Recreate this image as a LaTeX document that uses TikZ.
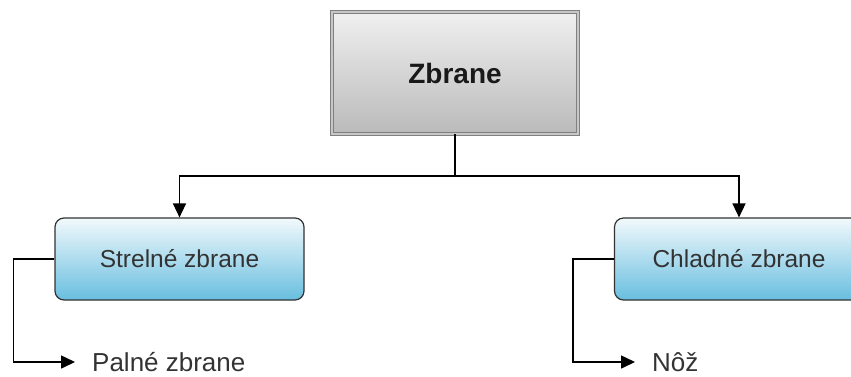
\documentclass[tikz,border=0pt]{standalone}
\usepackage{fontspec}
\setmainfont{Liberation Sans}
\usetikzlibrary{arrows.meta}
\definecolor{boxtop}{HTML}{F2F9FC}
\definecolor{boxbot}{HTML}{68BEDF}
\definecolor{txt}{HTML}{333333}
\tikzset{
  topbox/.style={draw=black!50, double=black!22, double distance=2.2pt, line width=0.9pt,
    top color=black!6, bottom color=black!27, minimum width=246pt, minimum height=122pt,
    inner sep=0pt, font=\fontsize{28}{32}\selectfont\bfseries, text=black!90},
  subbox/.style={draw=black!80, line width=1.2pt, rounded corners=9pt,
    top color=boxtop, bottom color=boxbot, minimum width=249pt, minimum height=82pt,
    inner sep=0pt, font=\fontsize{24.5}{28}\selectfont, text=txt},
  leaf/.style={anchor=west, inner xsep=17pt, inner ysep=0pt,
    font=\fontsize{26}{30}\selectfont, text=txt},
  conn/.style={draw=black, line width=1.6pt},
  arr/.style={conn, -{Triangle[length=14pt,width=13pt]}}
}
\begin{document}
\begin{tikzpicture}[x=1pt,y=-1pt]
\useasboundingbox (0,0) rectangle (851,376);
\clip (0,0) rectangle (851,376);
\node[topbox] (top) at (455,73) {Zbrane};
\node[subbox] (s) at (179.5,259) {Strelné zbrane};
\node[subbox] (c) at (739,259) {Chladné zbrane};
\node[leaf] (p) at (75,362) {Palné zbrane};
\node[leaf] (n) at (635,362) {Nôž};
\coordinate (j) at (455,176);
\draw[conn] (top.south) -- (j);
\draw[arr] (j) -| (s.north);
\draw[arr] (j) -| (c.north);
\draw[arr] (s.west) -- ++(-41,0) |- (p.west);
\draw[arr] (c.west) -- ++(-41,0) |- (n.west);
\end{tikzpicture}
\end{document}
